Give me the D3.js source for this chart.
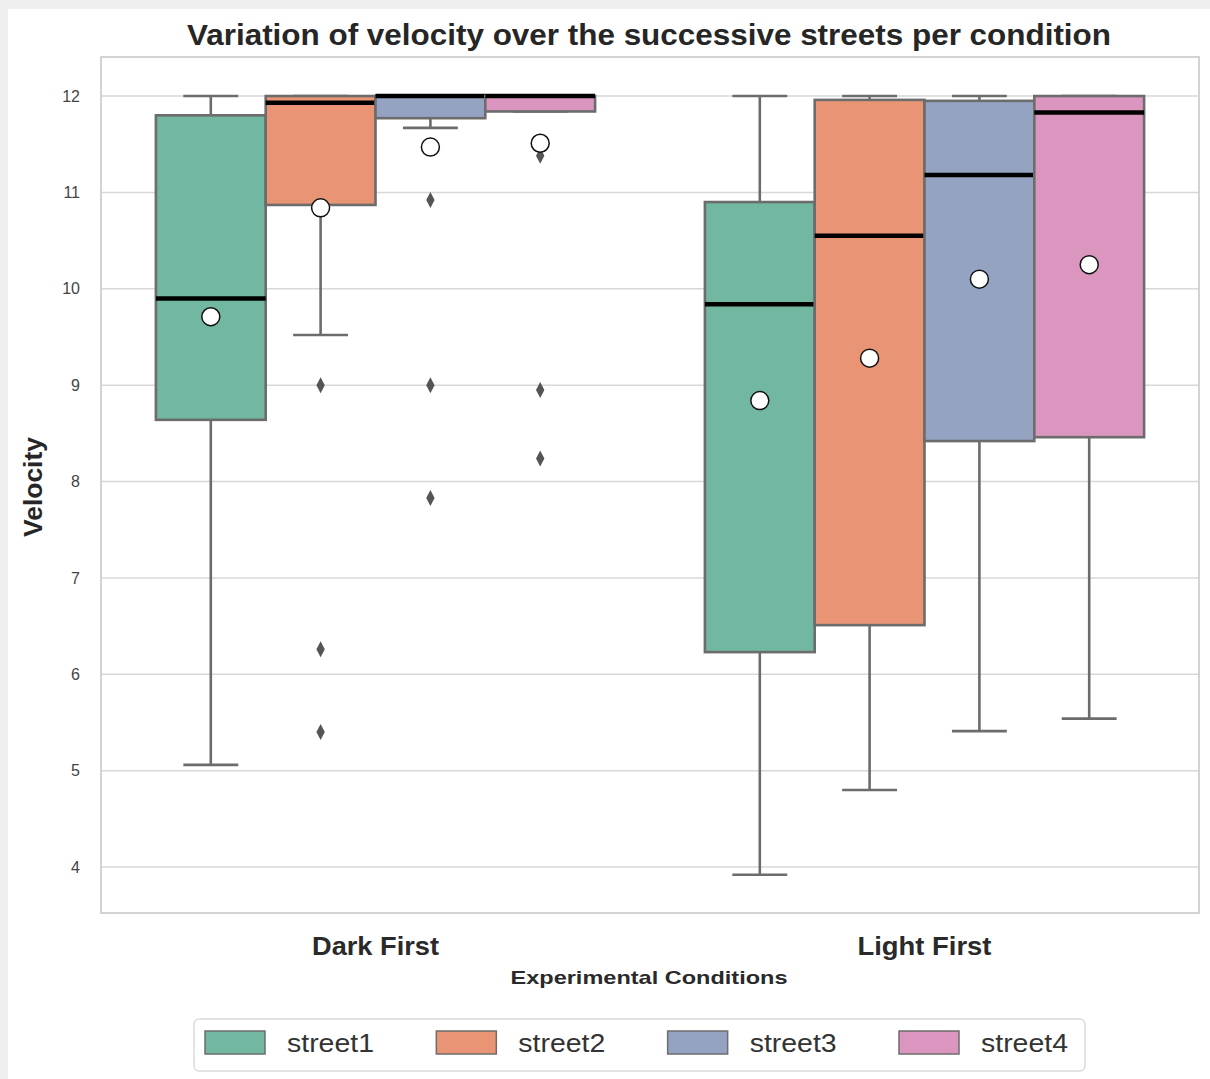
<!DOCTYPE html>
<html>
<head>
<meta charset="utf-8">
<script src="https://cdn.jsdelivr.net/npm/d3@7"></script>
<style>
  html, body { margin: 0; padding: 0; background: #ffffff; }
  svg { display: block; }
</style>
</head>
<body>
<svg id="chart" width="1210" height="1079"></svg>
<script>
// Conditions on the x axis and streets as the hue grouping
const conditions = ["Dark First", "Light First"];
const conditionLabelWidths = [127, 134];
const streets = ["street1", "street2", "street3", "street4"];
const streetColors = ["#71b7a1", "#e99575", "#95a3c3", "#db96c0"];

// Box statistics, one row per condition, one column per street
const whiskerLow  = [[5.06, 9.52, 11.67, 11.84], [3.92, 4.80, 5.41, 5.54]];
const q1          = [[8.64, 10.87, 11.77, 11.84], [6.23, 6.51, 8.42, 8.46]];
const medians     = [[9.90, 11.93, 12.00, 12.00], [9.84, 10.55, 11.18, 11.83]];
const q3          = [[11.80, 12.00, 12.00, 12.00], [10.90, 11.96, 11.95, 12.00]];
const whiskerHigh = [[12.00, 12.00, 12.00, 12.00], [12.00, 12.00, 12.00, 12.00]];
const means       = [[9.71, 10.84, 11.47, 11.51], [8.84, 9.28, 10.10, 10.25]];
const outliers    = [
  [[], [9.00, 6.26, 5.40], [10.92, 9.00, 7.83], [11.38, 8.95, 8.24]],
  [[], [], [], []]
];
const yTicks = [4, 5, 6, 7, 8, 9, 10, 11, 12];

const svg = d3.select("#chart");
const W = 1210, H = 1079;

// Page backdrop with a faint frame along the top and left edges
svg.append("rect").attr("x", 0).attr("y", 0).attr("width", W).attr("height", H).attr("fill", "#efefef");
svg.append("rect").attr("x", 8).attr("y", 9).attr("width", W - 8).attr("height", H - 9).attr("fill", "#ffffff");

const plot = { left: 101, right: 1199, top: 57, bottom: 913 };

const x = d3.scaleBand().domain(conditions).range([plot.left, plot.right]).paddingInner(0).paddingOuter(0);
const y = d3.scaleLinear().domain([3.523, 12.405]).range([plot.bottom, plot.top]);
const hue = d3.scaleBand().domain(streets).range([0, x.bandwidth() * 0.8]);

// Horizontal grid lines
svg.append("g")
  .selectAll("line").data(yTicks).join("line")
  .attr("x1", plot.left).attr("x2", plot.right)
  .attr("y1", d => y(d)).attr("y2", d => y(d))
  .attr("stroke", "#d8d8d8").attr("stroke-width", 1.5);

// Plot frame
svg.append("rect")
  .attr("x", plot.left).attr("y", plot.top)
  .attr("width", plot.right - plot.left).attr("height", plot.bottom - plot.top)
  .attr("fill", "none").attr("stroke", "#cfcfcf").attr("stroke-width", 1.8);

// Y axis tick labels
const yAxis = d3.axisLeft(y).tickValues(yTicks).tickSize(0).tickPadding(0).tickFormat(d3.format("d"));
const yAxisG = svg.append("g").attr("transform", `translate(${plot.left - 21},0)`).call(yAxis);
yAxisG.select(".domain").remove();
yAxisG.selectAll("text")
  .attr("font-family", "Liberation Sans, Arial, sans-serif")
  .attr("font-size", 16).attr("fill", "#444444");

// X axis category labels
const xAxis = d3.axisBottom(x).tickSize(0).tickPadding(0);
const xAxisG = svg.append("g").attr("transform", `translate(0,${plot.bottom + 42})`).call(xAxis);
xAxisG.select(".domain").remove();
xAxisG.selectAll("text")
  .attr("dy", 0)
  .attr("font-family", "Liberation Sans, Arial, sans-serif")
  .attr("font-size", 26).attr("font-weight", "bold").attr("fill", "#2a2a2a")
  .attr("textLength", (d, i) => conditionLabelWidths[i]).attr("lengthAdjust", "spacingAndGlyphs");

// Build one record per box
const boxes = [];
conditions.forEach((c, ci) => {
  streets.forEach((s, si) => {
    boxes.push({
      cond: c, street: s, color: streetColors[si],
      lo: whiskerLow[ci][si], q1: q1[ci][si], med: medians[ci][si],
      q3: q3[ci][si], hi: whiskerHigh[ci][si], mean: means[ci][si],
      out: outliers[ci][si]
    });
  });
});

const boxW = hue.bandwidth();
const cx = d => x(d.cond) + x.bandwidth() * 0.1 + hue(d.street) + boxW / 2;
const edge = "#6c6c6c";

const g = svg.append("g");
const bx = g.selectAll("g.box").data(boxes).join("g").attr("class", "box");

// Whiskers
bx.append("line")
  .attr("x1", cx).attr("x2", cx)
  .attr("y1", d => y(d.hi)).attr("y2", d => y(d.q3))
  .attr("stroke", edge).attr("stroke-width", 2.6);
bx.append("line")
  .attr("x1", cx).attr("x2", cx)
  .attr("y1", d => y(d.q1)).attr("y2", d => y(d.lo))
  .attr("stroke", edge).attr("stroke-width", 2.6);
// Caps
bx.append("line")
  .attr("x1", d => cx(d) - boxW / 4).attr("x2", d => cx(d) + boxW / 4)
  .attr("y1", d => y(d.hi)).attr("y2", d => y(d.hi))
  .attr("stroke", edge).attr("stroke-width", 2.6);
bx.append("line")
  .attr("x1", d => cx(d) - boxW / 4).attr("x2", d => cx(d) + boxW / 4)
  .attr("y1", d => y(d.lo)).attr("y2", d => y(d.lo))
  .attr("stroke", edge).attr("stroke-width", 2.6);

// Boxes
bx.append("rect")
  .attr("x", d => cx(d) - boxW / 2)
  .attr("width", boxW)
  .attr("y", d => y(d.q3))
  .attr("height", d => Math.max(0, y(d.q1) - y(d.q3)))
  .attr("fill", d => d.color)
  .attr("stroke", edge).attr("stroke-width", 2.6);

// Medians
bx.append("line")
  .attr("x1", d => cx(d) - boxW / 2).attr("x2", d => cx(d) + boxW / 2)
  .attr("y1", d => y(d.med)).attr("y2", d => y(d.med))
  .attr("stroke", "#000000").attr("stroke-width", 4.5);

// Outliers as thin diamonds
const diamond = "M0,-8 L4.2,0 L0,8 L-4.2,0 Z";
bx.each(function(d) {
  d3.select(this).selectAll("path.flier").data(d.out).join("path")
    .attr("class", "flier")
    .attr("d", diamond)
    .attr("transform", v => `translate(${cx(d)},${y(v)})`)
    .attr("fill", "#555555");
});

// Means
bx.append("circle")
  .attr("cx", cx).attr("cy", d => y(d.mean))
  .attr("r", 9)
  .attr("fill", "#ffffff").attr("stroke", "#111111").attr("stroke-width", 1.5);

// Title and axis titles
svg.append("text")
  .attr("x", 649).attr("y", 45)
  .attr("text-anchor", "middle")
  .attr("font-family", "Liberation Sans, Arial, sans-serif")
  .attr("font-size", 29).attr("font-weight", "bold").attr("fill", "#262626")
  .attr("textLength", 924).attr("lengthAdjust", "spacingAndGlyphs")
  .text("Variation of velocity over the successive streets per condition");

svg.append("text")
  .attr("x", 649).attr("y", 984)
  .attr("text-anchor", "middle")
  .attr("font-family", "Liberation Sans, Arial, sans-serif")
  .attr("font-size", 19).attr("font-weight", "bold").attr("fill", "#2a2a2a")
  .attr("textLength", 277).attr("lengthAdjust", "spacingAndGlyphs")
  .text("Experimental Conditions");

svg.append("text")
  .attr("transform", "translate(42,487) rotate(-90)")
  .attr("text-anchor", "middle")
  .attr("font-family", "Liberation Sans, Arial, sans-serif")
  .attr("font-size", 25).attr("font-weight", "bold").attr("fill", "#262626")
  .attr("textLength", 100).attr("lengthAdjust", "spacingAndGlyphs")
  .text("Velocity");

// Legend
const legend = svg.append("g");
legend.append("rect")
  .attr("x", 194).attr("y", 1019).attr("width", 891).attr("height", 52)
  .attr("rx", 5).attr("fill", "#ffffff").attr("stroke", "#dcdcdc").attr("stroke-width", 1.5);
const legX = d3.scalePoint().domain(streets).range([205, 899]);
const items = legend.selectAll("g.item").data(streets).join("g").attr("class", "item")
  .attr("transform", s => `translate(${legX(s)},1031)`);
items.append("rect")
  .attr("width", 60).attr("height", 23)
  .attr("fill", (s, i) => streetColors[i])
  .attr("stroke", edge).attr("stroke-width", 1.5);
items.append("text")
  .attr("x", 82).attr("y", 21)
  .attr("font-family", "Liberation Sans, Arial, sans-serif")
  .attr("font-size", 25).attr("fill", "#333333")
  .attr("textLength", 87).attr("lengthAdjust", "spacingAndGlyphs")
  .text(s => s);
</script>
</body>
</html>
